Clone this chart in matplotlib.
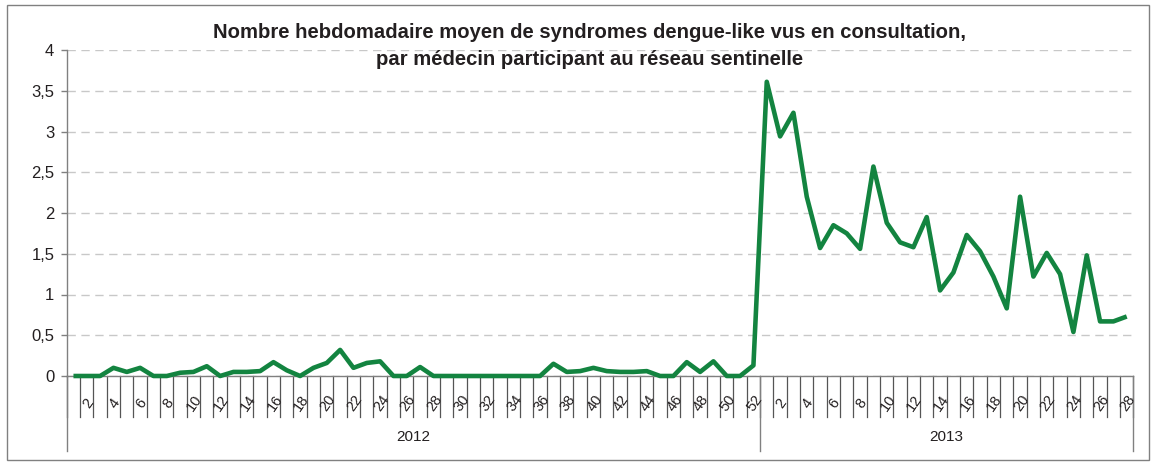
import matplotlib
matplotlib.use("Agg")
import matplotlib.pyplot as plt
import matplotlib.transforms as mtransforms
from matplotlib.patches import Rectangle

plt.rcParams['font.family'] = ['Liberation Sans', 'DejaVu Sans']

title = "Nombre hebdomadaire moyen de syndromes dengue-like vus en consultation,\npar médecin participant au réseau sentinelle"
years = ["2012", "2013"]
weeks_2012 = list(range(1, 53))
weeks_2013 = list(range(1, 29))
values_2012 = [0, 0, 0, 0.10, 0.05, 0.10, 0, 0, 0.04, 0.05,
               0.12, 0, 0.05, 0.05, 0.06, 0.17, 0.07, 0, 0.10, 0.16,
               0.32, 0.10, 0.16, 0.18, 0, 0, 0.11, 0, 0, 0,
               0, 0, 0, 0, 0, 0, 0.15, 0.05, 0.06, 0.10,
               0.06, 0.05, 0.05, 0.06, 0, 0, 0.17, 0.05, 0.18, 0,
               0, 0.13]
values_2013 = [3.61, 2.94, 3.23, 2.20, 1.57, 1.85, 1.75, 1.56, 2.57, 1.88,
               1.64, 1.58, 1.95, 1.05, 1.27, 1.73, 1.53, 1.22, 0.83, 2.20,
               1.22, 1.51, 1.25, 0.54, 1.48, 0.67, 0.67, 0.73]
yticks = [0, 0.5, 1, 1.5, 2, 2.5, 3, 3.5, 4]
ytick_labels = ["0", "0,5", "1", "1,5", "2", "2,5", "3", "3,5", "4"]

W, H = 1155, 463
fig = plt.figure(figsize=(W / 100, H / 100), dpi=100)
left, right, top, bottom = 66.8, 1133.4, 50, 376
ax = fig.add_axes([left / W, 1 - bottom / H, (right - left) / W, (bottom - top) / H])

values = values_2012 + values_2013
labels = weeks_2012 + weeks_2013
n = len(values)
xs = [i + 0.5 for i in range(n)]

line_color = '#138440'
ax.plot(xs, values, color=line_color, lw=3.3, solid_joinstyle='round', solid_capstyle='butt', zorder=5, clip_on=False)

ax.set_xlim(0, n)
ax.set_ylim(0, 4)
ax.set_yticks(yticks)
ax.set_yticklabels(ytick_labels, fontsize=12, color='#231f20')
ax.tick_params(axis='y', length=4, width=1, color='#808080', pad=5)
ax.set_xticks([])

ax.grid(axis='y', color='#c8c8c8', lw=1, linestyle=(0, (6, 4)))
ax.set_axisbelow(True)
for s in ['top', 'right']:
    ax.spines[s].set_visible(False)
for s in ['left', 'bottom']:
    ax.spines[s].set_color('#808080')
    ax.spines[s].set_linewidth(1)

trans = mtransforms.blended_transform_factory(ax.transData, ax.transAxes)
axh = bottom - top
tick_depth = -41 / axh
sep_depth = -75 / axh
label_y = -27 / axh
year_y = -61 / axh

# category tick lines
for b in range(n + 1):
    ax.plot([b, b], [0, tick_depth], transform=trans, color='#555555', lw=0.9, clip_on=False)
# year separators
bounds = [0, len(weeks_2012), n]
for b in bounds:
    ax.plot([b, b], [0, sep_depth], transform=trans, color='#808080', lw=1, clip_on=False)

# week labels (even weeks)
for x, w in zip(xs, labels):
    if w % 2 == 0:
        ax.text(x + 0.1, label_y, str(w), transform=trans, rotation=55, ha='center', va='center',
                fontsize=10.5, color='#231f20', rotation_mode='anchor')

# year labels
for yr, a, b in zip(years, bounds[:-1], bounds[1:]):
    ax.text((a + b) / 2, year_y, yr, transform=trans, ha='center', va='center', fontsize=11, color='#231f20')

fig.text(589.5 / W, 1 - 46 / H, title, ha='center', va='center', fontsize=14.6, fontweight='bold',
         color='#231f20', linespacing=1.55)

fig.patches.append(Rectangle((7 / W, 1 - 460 / H), (1149 - 7) / W, (460 - 5) / H, transform=fig.transFigure,
                             fill=False, edgecolor='#808080', lw=1))

fig.savefig('out.png', dpi=100)
